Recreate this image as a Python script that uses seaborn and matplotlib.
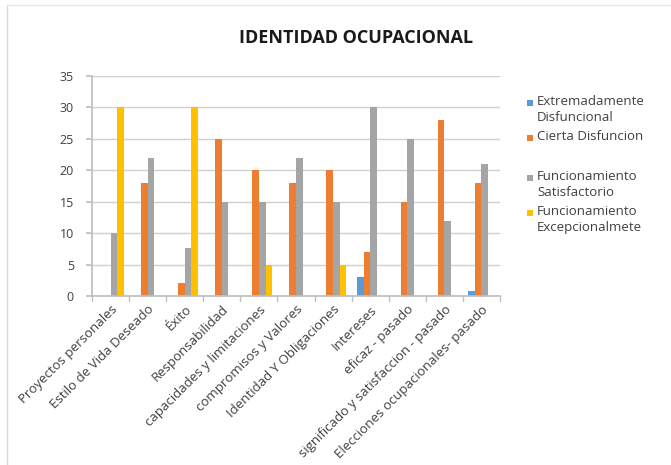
import matplotlib
matplotlib.use("Agg")
import matplotlib.pyplot as plt
from matplotlib.patches import Rectangle
import seaborn as sns
import pandas as pd

categories = ["Proyectos personales", "Estilo de Vida Deseado", "Éxito", "Responsabilidad",
              "capacidades y limitaciones", "compromisos y Valores", "Identidad Y Obligaciones",
              "Intereses", "eficaz - pasado", "significado y satisfaccion - pasado",
              "Elecciones ocupacionales- pasado"]
series_names = ["Extremadamente\nDisfuncional", "Cierta Disfuncion",
                "Funcionamiento\nSatisfactorio", "Funcionamiento\nExcepcionalmete"]
extremadamente = [0, 0, 0, 0, 0, 0, 0, 3, 0, 0, 0.8]
cierta = [0, 18, 2, 25, 20, 18, 20, 7, 15, 28, 18]
satisfactorio = [10, 22, 7.7, 15, 15, 22, 15, 30, 25, 12, 21]
excepcional = [30, 0, 30, 0, 5, 0, 5, 0, 0, 0, 0]
colors = ["#5B9BD5", "#ED7D31", "#A5A5A5", "#FFC000"]

rows = []
for name, vals in zip(series_names, [extremadamente, cierta, satisfactorio, excepcional]):
    for c, v in zip(categories, vals):
        rows.append({"cat": c, "serie": name, "val": v})
df = pd.DataFrame(rows)

sns.set_theme(style="white")
plt.rcParams['font.family'] = ['Open Sans', 'DejaVu Sans']

W, H = 671, 465
fig = plt.figure(figsize=(W / 100, H / 100), dpi=100)
ax = fig.add_axes([92 / W, 1 - 296 / H, 408 / W, 220 / H])
sns.barplot(data=df, x="cat", y="val", hue="serie", palette=colors, width=0.72,
            saturation=1, ax=ax, order=categories, hue_order=series_names,
            linewidth=0, legend=False)

ax.set_ylim(0, 35)
ax.set_yticks(range(0, 36, 5))
ax.set_xlim(-0.5, len(categories) - 0.5)
ax.yaxis.grid(True, color="#D0D0D0", linewidth=1)
ax.set_axisbelow(True)
for s in ["top", "right"]:
    ax.spines[s].set_visible(False)
ax.spines["left"].set_color("#BFBFBF")
ax.spines["bottom"].set_color("#BFBFBF")
ax.set_xlabel("")
ax.set_ylabel("")
ax.tick_params(axis="y", labelsize=9, colors="#404040", length=4, color="#BFBFBF",
               left=True, pad=9)
ax.set_xticks(range(len(categories)))
ax.set_xticklabels(categories, rotation=45, ha="right", rotation_mode="anchor",
                   fontsize=9.5, color="#404040")
ax.tick_params(axis="x", length=0, pad=5)
for i in range(len(categories) + 1):
    ax.plot([i - 0.5, i - 0.5], [0, -0.8], color="#BFBFBF", lw=1, clip_on=False)

fig.text(356.5 / W, 1 - 38 / H, "IDENTIDAD OCUPACIONAL", ha="center", va="center",
         fontsize=13, fontweight="bold", color="#1a1a1a")

# legend
legend_y = [103, 138, 178, 213]
for name, col, yp in zip(series_names, colors, legend_y):
    fig.add_artist(Rectangle((527 / W, 1 - (yp + 3) / H), 6 / W, 6 / H,
                             transform=fig.transFigure, color=col, lw=0))
    fig.text(537 / W, 1 - (yp - 8) / H, name, ha="left", va="top", fontsize=9.5,
             color="#404040", linespacing=1.25)

fig.add_artist(plt.Line2D([7 / W, 7 / W], [0.0, 1 - 5 / H], color="#D9D9D9", lw=1))
fig.add_artist(plt.Line2D([7 / W, 1.0], [1 - 5 / H, 1 - 5 / H], color="#E6E6E6", lw=1))
fig.savefig("out.png", dpi=100)
